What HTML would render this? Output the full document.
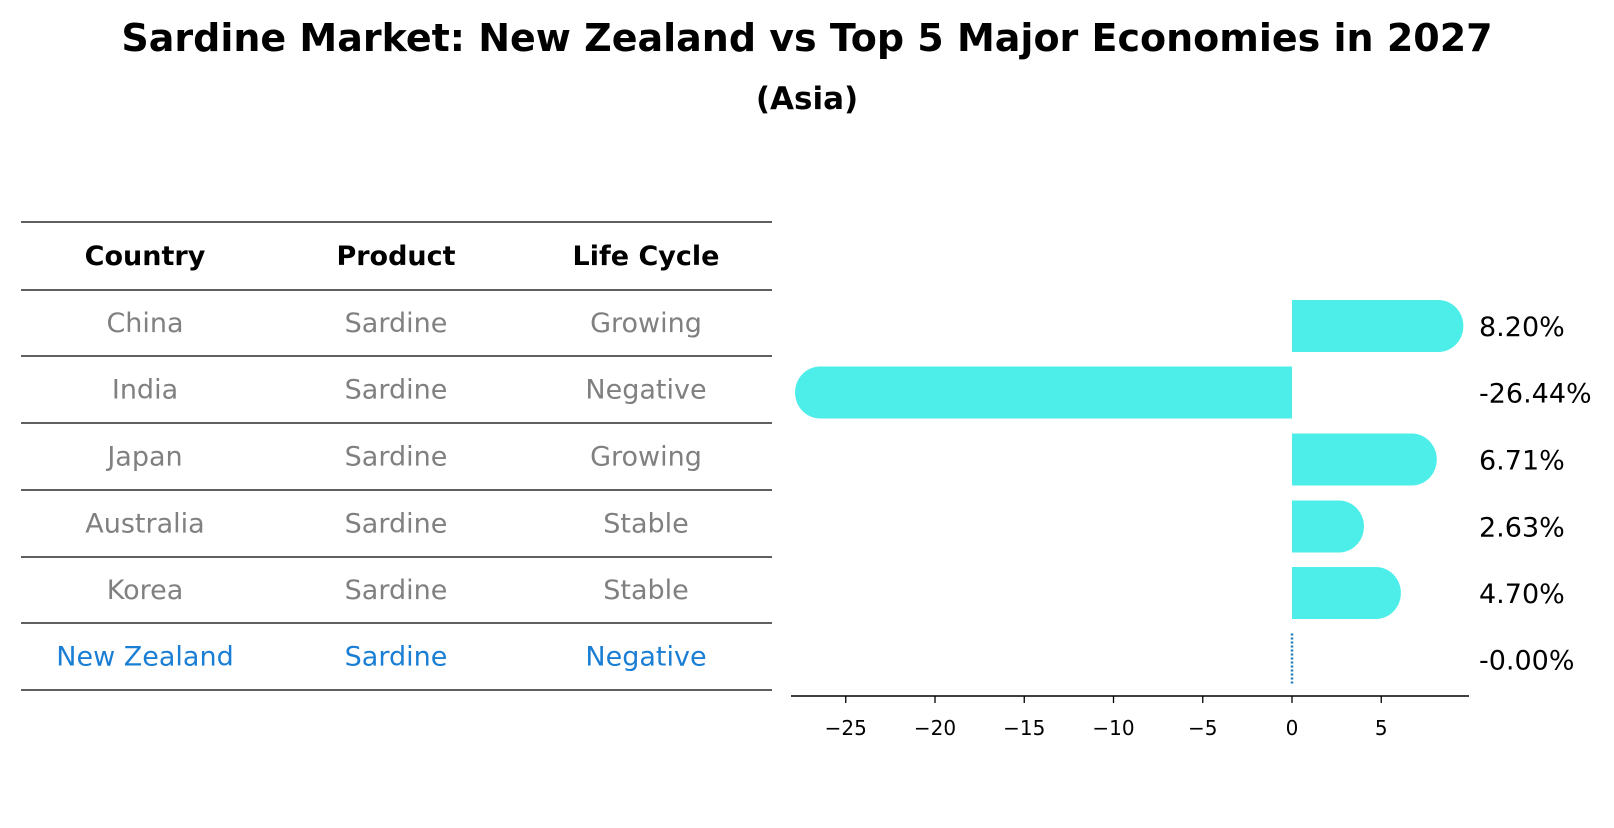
<!DOCTYPE html>
<html><head><meta charset="utf-8"><style>
body{margin:0;background:#fff;font-family:"Liberation Sans","DejaVu Sans",sans-serif}
svg text{font-family:"DejaVu Sans","Liberation Sans",sans-serif}
</style></head><body>
<svg id="c" width="1614" height="823" viewBox="0 0 1614 823" xmlns="http://www.w3.org/2000/svg">
<text x="807" y="51" text-anchor="middle" font-size="38" font-weight="bold">Sardine Market: New Zealand vs Top 5 Major Economies in 2027</text>
<text x="807" y="109" text-anchor="middle" font-size="31" font-weight="bold">(Asia)</text>
<g id="tbl"></g>
<g id="bars"></g>
</svg>
<script>
const countries=["China","India","Japan","Australia","Korea","New Zealand"];
const products=["Sardine","Sardine","Sardine","Sardine","Sardine","Sardine"];
const lifecycle=["Growing","Negative","Growing","Stable","Stable","Negative"];
const growth=[8.20,-26.44,6.71,2.63,4.70,-0.00];
const ticks=[-25,-20,-15,-10,-5,0,5];
const NS="http://www.w3.org/2000/svg";
function mk(t,a,p){const e=document.createElementNS(NS,t);for(const k in a)e.setAttribute(k,a[k]);p.appendChild(e);return e;}
const tbl=document.getElementById('tbl'),bars=document.getElementById('bars');
const lines=[222,290,356,423,490,557,623,690];
lines.forEach((y,i)=>{const l=mk('line',{x1:21,x2:772,y1:y,y2:y,stroke:'#000','stroke-width':1.2},tbl);

});
const cx=[145,396,646];
["Country","Product","Life Cycle"].forEach((h,j)=>{const t=mk('text',{x:cx[j],y:265,'text-anchor':'middle','font-size':27,'font-weight':'bold'},tbl);t.textContent=h;

});
countries.forEach((c,i)=>{const y=(lines[i+1]+lines[i+2])/2+9;const col=i==5?'#1a7fd4':'#808080';
[c,products[i],lifecycle[i]].forEach((v,j)=>{const t=mk('text',{x:cx[j],y:y,'text-anchor':'middle','font-size':27,fill:col},tbl);t.textContent=v;

});});
const x0=1292,u=17.85;
const X=v=>x0+v*u;
const rowY=i=>(lines[i+1]+lines[i+2])/2+3;
const h=52,r=25;
growth.forEach((v,i)=>{const yc=rowY(i),yt=yc-h/2,yb=yc+h/2;
if(Math.abs(v)<0.005){const l=mk('line',{x1:X(0),x2:X(0),y1:yt,y2:yb,stroke:'#1f77b4','stroke-width':2.5,'stroke-dasharray':'2,2'},bars);

}
else{const xe=X(v),s=v>0?1:-1;
const d=`M${X(0)},${yt} L${xe},${yt} A${r},${h/2} 0 0 ${s>0?1:0} ${xe},${yb} L${X(0)},${yb} Z`;
const p=mk('path',{d:d,fill:'#4deee9'},bars);

}
const t=mk('text',{x:1479,y:yc+10,'font-size':27},bars);t.textContent=v.toFixed(2)+'%';if(Math.abs(v)<0.005)t.textContent='-0.00%';

});
const ax=mk('line',{x1:791,x2:1469,y1:696,y2:696,stroke:'#000','stroke-width':1.5},bars);


ticks.forEach(v=>{const tk=mk('line',{x1:X(v),x2:X(v),y1:696,y2:703,stroke:'#000','stroke-width':1.3},bars);


const t=mk('text',{x:X(v),y:735,'text-anchor':'middle','font-size':20},bars);t.textContent=v<0?'\u2212'+(-v):String(v);

});
</script>
</body></html>
